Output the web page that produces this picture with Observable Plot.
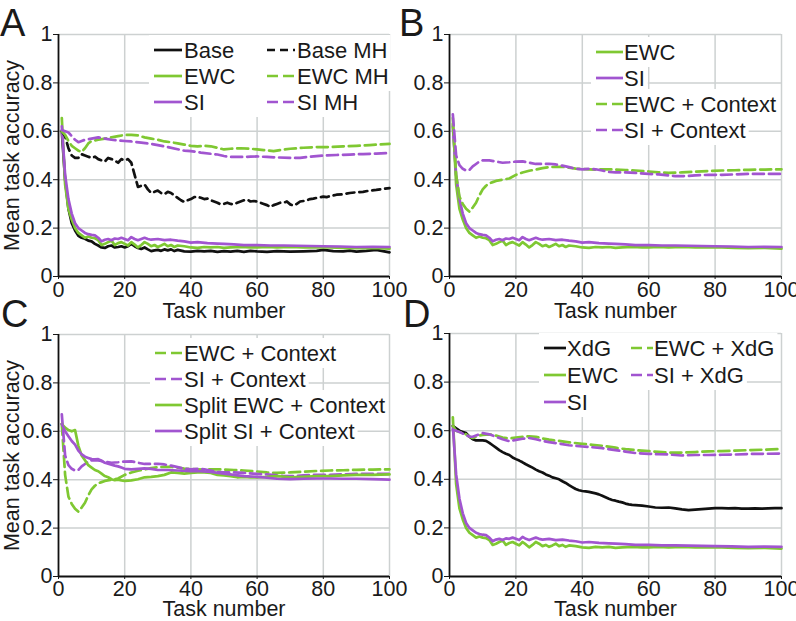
<!DOCTYPE html>
<html>
<head>
<meta charset="utf-8">
<script src="https://cdn.jsdelivr.net/npm/d3@7"></script>
<script src="https://cdn.jsdelivr.net/npm/@observablehq/plot@0.6"></script>
<style>
  html, body { margin: 0; padding: 0; background: #ffffff; }
  #fig { position: relative; width: 796px; height: 621px; overflow: hidden; background: #ffffff;
         font-family: "Liberation Sans", Arial, Helvetica, sans-serif; }
</style>
</head>
<body>
<div id="fig"></div>
<script>
// ---------- axis ticks & titles ----------
const xTicks = [0, 20, 40, 60, 80, 100];
const xTickLabels = ["0", "20", "40", "60", "80", "100"];
const yTicks = [0, 0.2, 0.4, 0.6, 0.8, 1];
const yTickLabels = ["0", "0.2", "0.4", "0.6", "0.8", "1"];
const panelLetters = ["A", "B", "C", "D"];
const xTitle = "Task number";
const yTitle = "Mean task accuracy";

// ---------- legend labels ----------
const legendA = ["Base", "EWC", "SI", "Base MH", "EWC MH", "SI MH"];
const legendB = ["EWC", "SI", "EWC + Context", "SI + Context"];
const legendC = ["EWC + Context", "SI + Context", "Split EWC + Context", "Split SI + Context"];
const legendD = ["XdG", "EWC", "SI", "EWC + XdG", "SI + XdG"];

// ---------- series: [task number, mean task accuracy] ----------
const ewc = [[1,0.655],[2,0.38],[3,0.28],[4,0.235],[5,0.2],[6,0.18],[7,0.17],[8,0.16],[9,0.165],[10,0.16],[11,0.158],[12,0.15],[13,0.13],[14,0.135],[15,0.142],[16,0.148],[17,0.13],[18,0.138],[19,0.142],[20,0.135],[21,0.128],[22,0.142],[23,0.132],[24,0.12],[25,0.13],[26,0.142],[27,0.135],[28,0.125],[29,0.13],[30,0.122],[31,0.128],[32,0.135],[33,0.125],[34,0.13],[35,0.122],[36,0.128],[38,0.125],[40,0.12],[42,0.118],[44,0.122],[46,0.12],[48,0.122],[50,0.118],[52,0.12],[55,0.122],[58,0.12],[60,0.12],[63,0.122],[66,0.12],[70,0.122],[74,0.12],[78,0.12],[82,0.12],[86,0.118],[90,0.117],[95,0.118],[100,0.115]];
const si = [[1,0.62],[2,0.42],[3,0.32],[4,0.26],[5,0.22],[6,0.2],[7,0.19],[8,0.18],[9,0.175],[10,0.172],[11,0.17],[12,0.16],[13,0.145],[14,0.152],[15,0.155],[16,0.15],[17,0.157],[18,0.155],[19,0.16],[20,0.155],[21,0.15],[22,0.163],[23,0.155],[24,0.15],[25,0.155],[26,0.16],[27,0.155],[28,0.152],[30,0.155],[32,0.15],[34,0.152],[36,0.148],[38,0.145],[40,0.14],[42,0.142],[45,0.138],[48,0.136],[50,0.135],[53,0.133],[56,0.13],[60,0.13],[64,0.128],[68,0.128],[72,0.127],[76,0.126],[80,0.125],[85,0.124],[90,0.122],[95,0.123],[100,0.122]];
const base = [[1,0.6],[2,0.4],[3,0.28],[4,0.22],[5,0.19],[6,0.168],[7,0.16],[8,0.156],[9,0.148],[10,0.145],[11,0.135],[12,0.128],[13,0.12],[14,0.118],[15,0.125],[16,0.128],[17,0.12],[18,0.122],[19,0.125],[20,0.12],[21,0.125],[22,0.135],[23,0.125],[24,0.118],[25,0.114],[26,0.12],[27,0.112],[28,0.105],[29,0.108],[30,0.11],[31,0.106],[32,0.112],[33,0.108],[34,0.112],[35,0.105],[36,0.11],[38,0.104],[40,0.103],[42,0.106],[44,0.104],[46,0.106],[48,0.102],[50,0.105],[52,0.103],[54,0.106],[56,0.102],[58,0.106],[60,0.104],[63,0.102],[66,0.105],[70,0.103],[74,0.104],[78,0.106],[80,0.11],[83,0.105],[86,0.104],[88,0.107],[90,0.103],[93,0.106],[96,0.11],[98,0.105],[100,0.1]];
const baseMH = [[1,0.6],[2,0.58],[3,0.53],[4,0.5],[5,0.49],[6,0.49],[7,0.505],[8,0.5],[9,0.495],[10,0.49],[11,0.495],[12,0.485],[13,0.48],[14,0.475],[15,0.49],[16,0.485],[17,0.48],[18,0.47],[19,0.485],[20,0.48],[21,0.485],[22,0.47],[23,0.42],[24,0.37],[25,0.375],[26,0.38],[27,0.36],[28,0.345],[29,0.35],[30,0.355],[31,0.345],[32,0.34],[33,0.35],[34,0.345],[35,0.335],[36,0.325],[37,0.315],[38,0.308],[39,0.315],[40,0.32],[41,0.328],[42,0.33],[43,0.325],[44,0.32],[45,0.322],[46,0.315],[47,0.31],[48,0.305],[49,0.298],[50,0.3],[51,0.305],[52,0.3],[53,0.298],[54,0.305],[55,0.31],[56,0.315],[57,0.318],[58,0.31],[59,0.312],[60,0.31],[61,0.305],[62,0.3],[63,0.295],[64,0.287],[65,0.295],[66,0.3],[67,0.305],[68,0.305],[69,0.31],[70,0.298],[71,0.293],[72,0.3],[73,0.31],[74,0.312],[75,0.315],[76,0.32],[77,0.322],[78,0.325],[80,0.33],[81,0.328],[82,0.332],[84,0.338],[86,0.34],[88,0.345],[90,0.348],[92,0.35],[94,0.355],[96,0.358],[98,0.362],[100,0.365]];
const ewcMH = [[1,0.6],[2,0.585],[3,0.56],[4,0.54],[5,0.53],[6,0.52],[7,0.515],[8,0.53],[9,0.55],[10,0.56],[12,0.565],[14,0.57],[16,0.575],[18,0.58],[20,0.585],[22,0.585],[24,0.583],[26,0.575],[28,0.57],[30,0.565],[32,0.558],[34,0.555],[36,0.55],[38,0.545],[40,0.54],[42,0.538],[44,0.54],[46,0.538],[48,0.532],[50,0.525],[52,0.528],[55,0.53],[58,0.528],[60,0.525],[62,0.522],[65,0.518],[68,0.525],[70,0.528],[74,0.532],[78,0.535],[82,0.535],[86,0.538],[90,0.54],[94,0.543],[97,0.546],[100,0.548]];
const siMH = [[1,0.605],[2,0.6],[3,0.595],[4,0.58],[5,0.565],[6,0.555],[7,0.56],[8,0.565],[10,0.57],[12,0.575],[14,0.57],[16,0.565],[18,0.562],[20,0.56],[22,0.558],[25,0.553],[28,0.548],[30,0.543],[33,0.535],[36,0.526],[38,0.52],[40,0.518],[43,0.512],[46,0.507],[48,0.504],[50,0.498],[52,0.494],[55,0.494],[58,0.495],[60,0.496],[63,0.494],[66,0.492],[70,0.49],[73,0.49],[76,0.495],[80,0.5],[84,0.502],[88,0.504],[92,0.506],[96,0.508],[100,0.51]];
const ewcCtx = [[1,0.63],[2,0.42],[3,0.33],[4,0.3],[5,0.28],[6,0.268],[7,0.285],[8,0.305],[9,0.335],[10,0.36],[11,0.375],[12,0.385],[13,0.39],[14,0.395],[16,0.4],[18,0.405],[20,0.42],[22,0.43],[24,0.437],[26,0.442],[28,0.448],[30,0.452],[32,0.453],[34,0.453],[36,0.45],[38,0.446],[40,0.444],[42,0.443],[44,0.442],[46,0.443],[48,0.443],[50,0.442],[53,0.44],[56,0.438],[60,0.434],[63,0.43],[66,0.428],[70,0.43],[74,0.433],[78,0.436],[82,0.438],[86,0.439],[90,0.441],[95,0.442],[100,0.443]];
const siCtx = [[1,0.67],[2,0.5],[3,0.46],[4,0.445],[5,0.438],[6,0.44],[7,0.455],[8,0.465],[9,0.475],[10,0.48],[12,0.48],[14,0.475],[16,0.47],[18,0.472],[20,0.475],[22,0.476],[24,0.47],[26,0.465],[28,0.465],[30,0.466],[32,0.463],[34,0.458],[36,0.452],[38,0.445],[40,0.443],[42,0.445],[44,0.443],[46,0.438],[48,0.432],[50,0.43],[53,0.43],[56,0.428],[60,0.424],[63,0.422],[66,0.418],[68,0.415],[71,0.415],[74,0.418],[78,0.42],[82,0.42],[86,0.422],[90,0.424],[95,0.424],[100,0.424]];
const splitEwcCtx = [[1,0.63],[2,0.615],[3,0.605],[4,0.6],[5,0.605],[6,0.54],[7,0.5],[8,0.48],[9,0.46],[10,0.45],[11,0.44],[12,0.435],[13,0.425],[14,0.415],[15,0.41],[16,0.402],[17,0.398],[18,0.4],[19,0.397],[20,0.395],[22,0.397],[24,0.402],[26,0.41],[28,0.412],[30,0.415],[32,0.42],[34,0.43],[36,0.428],[38,0.425],[40,0.428],[42,0.43],[44,0.43],[46,0.428],[48,0.42],[50,0.418],[52,0.415],[54,0.41],[56,0.412],[58,0.41],[60,0.41],[63,0.412],[66,0.415],[70,0.41],[74,0.412],[78,0.415],[82,0.415],[86,0.418],[90,0.42],[95,0.42],[100,0.422]];
const splitSiCtx = [[1,0.63],[2,0.6],[3,0.58],[4,0.56],[5,0.545],[6,0.52],[7,0.505],[8,0.495],[9,0.49],[10,0.485],[11,0.484],[12,0.485],[13,0.478],[14,0.47],[15,0.466],[16,0.462],[17,0.458],[18,0.455],[19,0.45],[20,0.445],[22,0.443],[24,0.445],[26,0.447],[28,0.445],[30,0.44],[33,0.44],[36,0.438],[40,0.435],[43,0.435],[46,0.432],[50,0.425],[53,0.42],[56,0.415],[60,0.412],[63,0.408],[66,0.404],[70,0.402],[74,0.404],[78,0.405],[82,0.405],[86,0.404],[90,0.404],[95,0.402],[100,0.4]];
const xdg = [[1,0.62],[2,0.61],[3,0.6],[4,0.595],[5,0.59],[6,0.575],[7,0.565],[8,0.56],[9,0.56],[10,0.56],[11,0.558],[12,0.55],[13,0.54],[14,0.53],[15,0.52],[16,0.512],[17,0.505],[18,0.5],[19,0.49],[20,0.483],[21,0.477],[22,0.47],[23,0.462],[24,0.455],[25,0.448],[26,0.44],[27,0.433],[28,0.428],[29,0.42],[30,0.415],[31,0.408],[32,0.404],[33,0.4],[34,0.392],[35,0.385],[36,0.376],[37,0.368],[38,0.36],[39,0.355],[40,0.352],[41,0.35],[42,0.348],[43,0.345],[44,0.342],[45,0.338],[46,0.332],[47,0.326],[48,0.32],[49,0.315],[50,0.312],[51,0.308],[52,0.305],[53,0.3],[54,0.297],[55,0.295],[56,0.294],[57,0.293],[58,0.292],[60,0.288],[62,0.284],[64,0.283],[66,0.284],[68,0.28],[70,0.276],[72,0.273],[74,0.275],[76,0.277],[78,0.279],[80,0.281],[82,0.281],[84,0.28],[86,0.281],[88,0.279],[90,0.279],[92,0.28],[94,0.279],[96,0.28],[98,0.281],[100,0.281]];
const ewcXdg = [[1,0.62],[2,0.6],[3,0.595],[4,0.59],[5,0.585],[6,0.575],[7,0.57],[8,0.575],[9,0.58],[10,0.583],[12,0.585],[14,0.58],[16,0.572],[18,0.568],[20,0.572],[22,0.575],[24,0.577],[26,0.575],[28,0.568],[30,0.563],[33,0.558],[36,0.552],[40,0.546],[43,0.542],[46,0.538],[50,0.53],[53,0.524],[56,0.52],[60,0.516],[63,0.513],[66,0.51],[70,0.51],[74,0.512],[78,0.515],[82,0.516],[86,0.518],[90,0.52],[95,0.522],[100,0.525]];
const siXdg = [[1,0.605],[2,0.6],[3,0.595],[4,0.588],[5,0.582],[6,0.576],[7,0.575],[8,0.58],[9,0.585],[10,0.59],[12,0.585],[14,0.575],[16,0.565],[18,0.557],[20,0.562],[22,0.567],[24,0.57],[26,0.565],[28,0.558],[30,0.553],[33,0.547],[36,0.54],[40,0.535],[43,0.532],[46,0.528],[50,0.52],[53,0.514],[56,0.508],[60,0.505],[63,0.503],[66,0.502],[70,0.498],[74,0.5],[78,0.5],[82,0.501],[86,0.502],[90,0.504],[95,0.505],[100,0.506]];

// ---------- styles ----------
const GREEN = "#7fc832";
const PURPLE = "#a155d0";
const BLACK = "#111111";
const GRID = "#cdd1d1";
const TEXT = "#1a1a1a";
const DASH = "11,5";
const DASH_K = "8,5";
const FONT = "'Liberation Sans', Arial, Helvetica, sans-serif";
const TICK_FS = 21.5;
const TITLE_FS = 21.5;
const LEGEND_FS = 22;
const LINE_W = 2.7;

const S = (data, color, dash) => ({data, color, dash});

const panels = [
  { left: 0, top: 0, width: 398, height: 320, ml: 58, mr: 9, mt: 34, mb: 44, yTitle: true, xTitleDy: 35, xTick: [3, 2],
    series: [S(base, BLACK), S(ewc, GREEN), S(si, PURPLE), S(baseMH, BLACK, DASH_K), S(ewcMH, GREEN, DASH), S(siMH, PURPLE, DASH)],
    legend: { labels: legendA, pos: [[0,0],[0,1],[0,2],[1,0],[1,1],[1,2]], sx: [154, 267], tx: [184, 297], rows: [50, 76, 102], len: 28 } },
  { left: 398, top: 0, width: 398, height: 320, ml: 51, mr: 15, mt: 34, mb: 44, yTitle: false, xTitleDy: 35, xTick: [3, 2],
    series: [S(ewc, GREEN), S(si, PURPLE), S(ewcCtx, GREEN, DASH), S(siCtx, PURPLE, DASH)],
    legend: { labels: legendB, pos: [[0,0],[0,1],[0,2],[0,3]], sx: [198], tx: [226], rows: [52, 78, 104, 130], len: 27 } },
  { left: 0, top: 300, width: 398, height: 321, ml: 58, mr: 9, mt: 34, mb: 45, yTitle: true, xTitleDy: 33, xTick: [3, 1],
    series: [S(ewcCtx, GREEN, DASH), S(siCtx, PURPLE, DASH), S(splitEwcCtx, GREEN), S(splitSiCtx, PURPLE)],
    legend: { labels: legendC, pos: [[0,0],[0,1],[0,2],[0,3]], sx: [155], tx: [184], rows: [53, 79, 105, 131], len: 27 } },
  { left: 398, top: 300, width: 398, height: 321, ml: 51, mr: 15, mt: 33, mb: 45, yTitle: false, xTitleDy: 33, xTick: [3, 1],
    series: [S(xdg, BLACK), S(ewc, GREEN), S(si, PURPLE), S(ewcXdg, GREEN, DASH), S(siXdg, PURPLE, DASH)],
    legend: { labels: legendD, pos: [[0,0],[0,1],[0,2],[1,0],[1,1]], sx: [146, 233], tx: [169, 256], rows: [48, 75, 102], len: 22 } }
];

const fig = document.getElementById("fig");

panels.forEach((p) => {
  const marks = [
    Plot.ruleY(yTicks.filter(d => d > 0), {stroke: GRID, strokeWidth: 1.5}),
    Plot.ruleX(xTicks.filter(d => d > 0), {stroke: GRID, strokeWidth: 1.5}),
    Plot.axisY({ticks: yTicks, tickFormat: d => yTickLabels[yTicks.indexOf(d)], tickSize: 5, tickPadding: 1,
                label: null, fontSize: TICK_FS}),
    Plot.axisX({ticks: xTicks, tickFormat: d => xTickLabels[xTicks.indexOf(d)], tickSize: p.xTick[0], tickPadding: p.xTick[1],
                label: null, fontSize: TICK_FS}),
    ...p.series.map(s => Plot.line(s.data, {x: d => d[0], y: d => d[1], stroke: s.color, strokeWidth: LINE_W,
                                            strokeDasharray: s.dash, strokeLinejoin: "round"})),
    Plot.ruleX([0], {stroke: BLACK, strokeWidth: 1.8}),
    Plot.ruleY([0], {stroke: BLACK, strokeWidth: 1.8}),
    Plot.text([xTitle], {text: d => d, frameAnchor: "bottom", lineAnchor: "middle", dy: p.xTitleDy,
                         fontSize: TITLE_FS, fill: TEXT})
  ];
  if (p.yTitle) {
    marks.push(Plot.text([yTitle], {text: d => d, frameAnchor: "left", textAnchor: "middle", lineAnchor: "middle",
                                    dx: -46, rotate: -90, fontSize: TITLE_FS, fill: TEXT}));
  }
  const svg = Plot.plot({
    width: p.width, height: p.height,
    marginLeft: p.ml, marginRight: p.mr, marginTop: p.mt, marginBottom: p.mb,
    x: {domain: [0, 100]},
    y: {domain: [0, 1]},
    style: {background: "transparent", overflow: "visible", fontFamily: FONT, fontSize: TICK_FS + "px", color: TEXT,
            position: "absolute", left: p.left + "px", top: p.top + "px"},
    marks
  });
  fig.appendChild(svg);

  // legend (drawn over the grid)
  const L = p.legend;
  const g = d3.select(svg).append("g").attr("font-family", FONT).attr("font-size", LEGEND_FS)
    .attr("text-anchor", "start");
  const bgLayer = g.append("g");
  const rowExtent = L.rows.map(() => [Infinity, -Infinity]);
  L.labels.forEach((lab, i) => {
    const [c, r] = L.pos[i];
    const s = p.series[i];
    const y = L.rows[r];
    g.append("line").attr("x1", L.sx[c]).attr("x2", L.sx[c] + L.len).attr("y1", y).attr("y2", y)
      .attr("stroke", s.color).attr("stroke-width", LINE_W).attr("stroke-dasharray", s.dash || null);
    const t = g.append("text").attr("x", L.tx[c]).attr("y", y).attr("dy", "0.35em")
      .attr("text-anchor", "start").attr("fill", TEXT).text(lab);
    const w = t.node().getComputedTextLength();
    rowExtent[r][0] = Math.min(rowExtent[r][0], L.sx[c]);
    rowExtent[r][1] = Math.max(rowExtent[r][1], L.tx[c] + w);
  });
  rowExtent.forEach(([a, b], r) => {
    bgLayer.append("rect").attr("x", a - 5).attr("y", L.rows[r] - 15).attr("width", b - a + 8).attr("height", 30)
      .attr("fill", "#ffffff");
  });
});

// panel letters
const ov = d3.select(fig).append("svg").attr("width", 796).attr("height", 621)
  .style("position", "absolute").style("left", "0px").style("top", "0px").style("pointer-events", "none");
const letterPos = [[0, 36], [399, 36], [1, 327], [403, 327]];
panelLetters.forEach((L, i) => {
  ov.append("text").attr("x", letterPos[i][0]).attr("y", letterPos[i][1]).attr("font-family", FONT)
    .attr("font-size", 38).attr("fill", TEXT).text(L);
});
</script>
</body>
</html>
